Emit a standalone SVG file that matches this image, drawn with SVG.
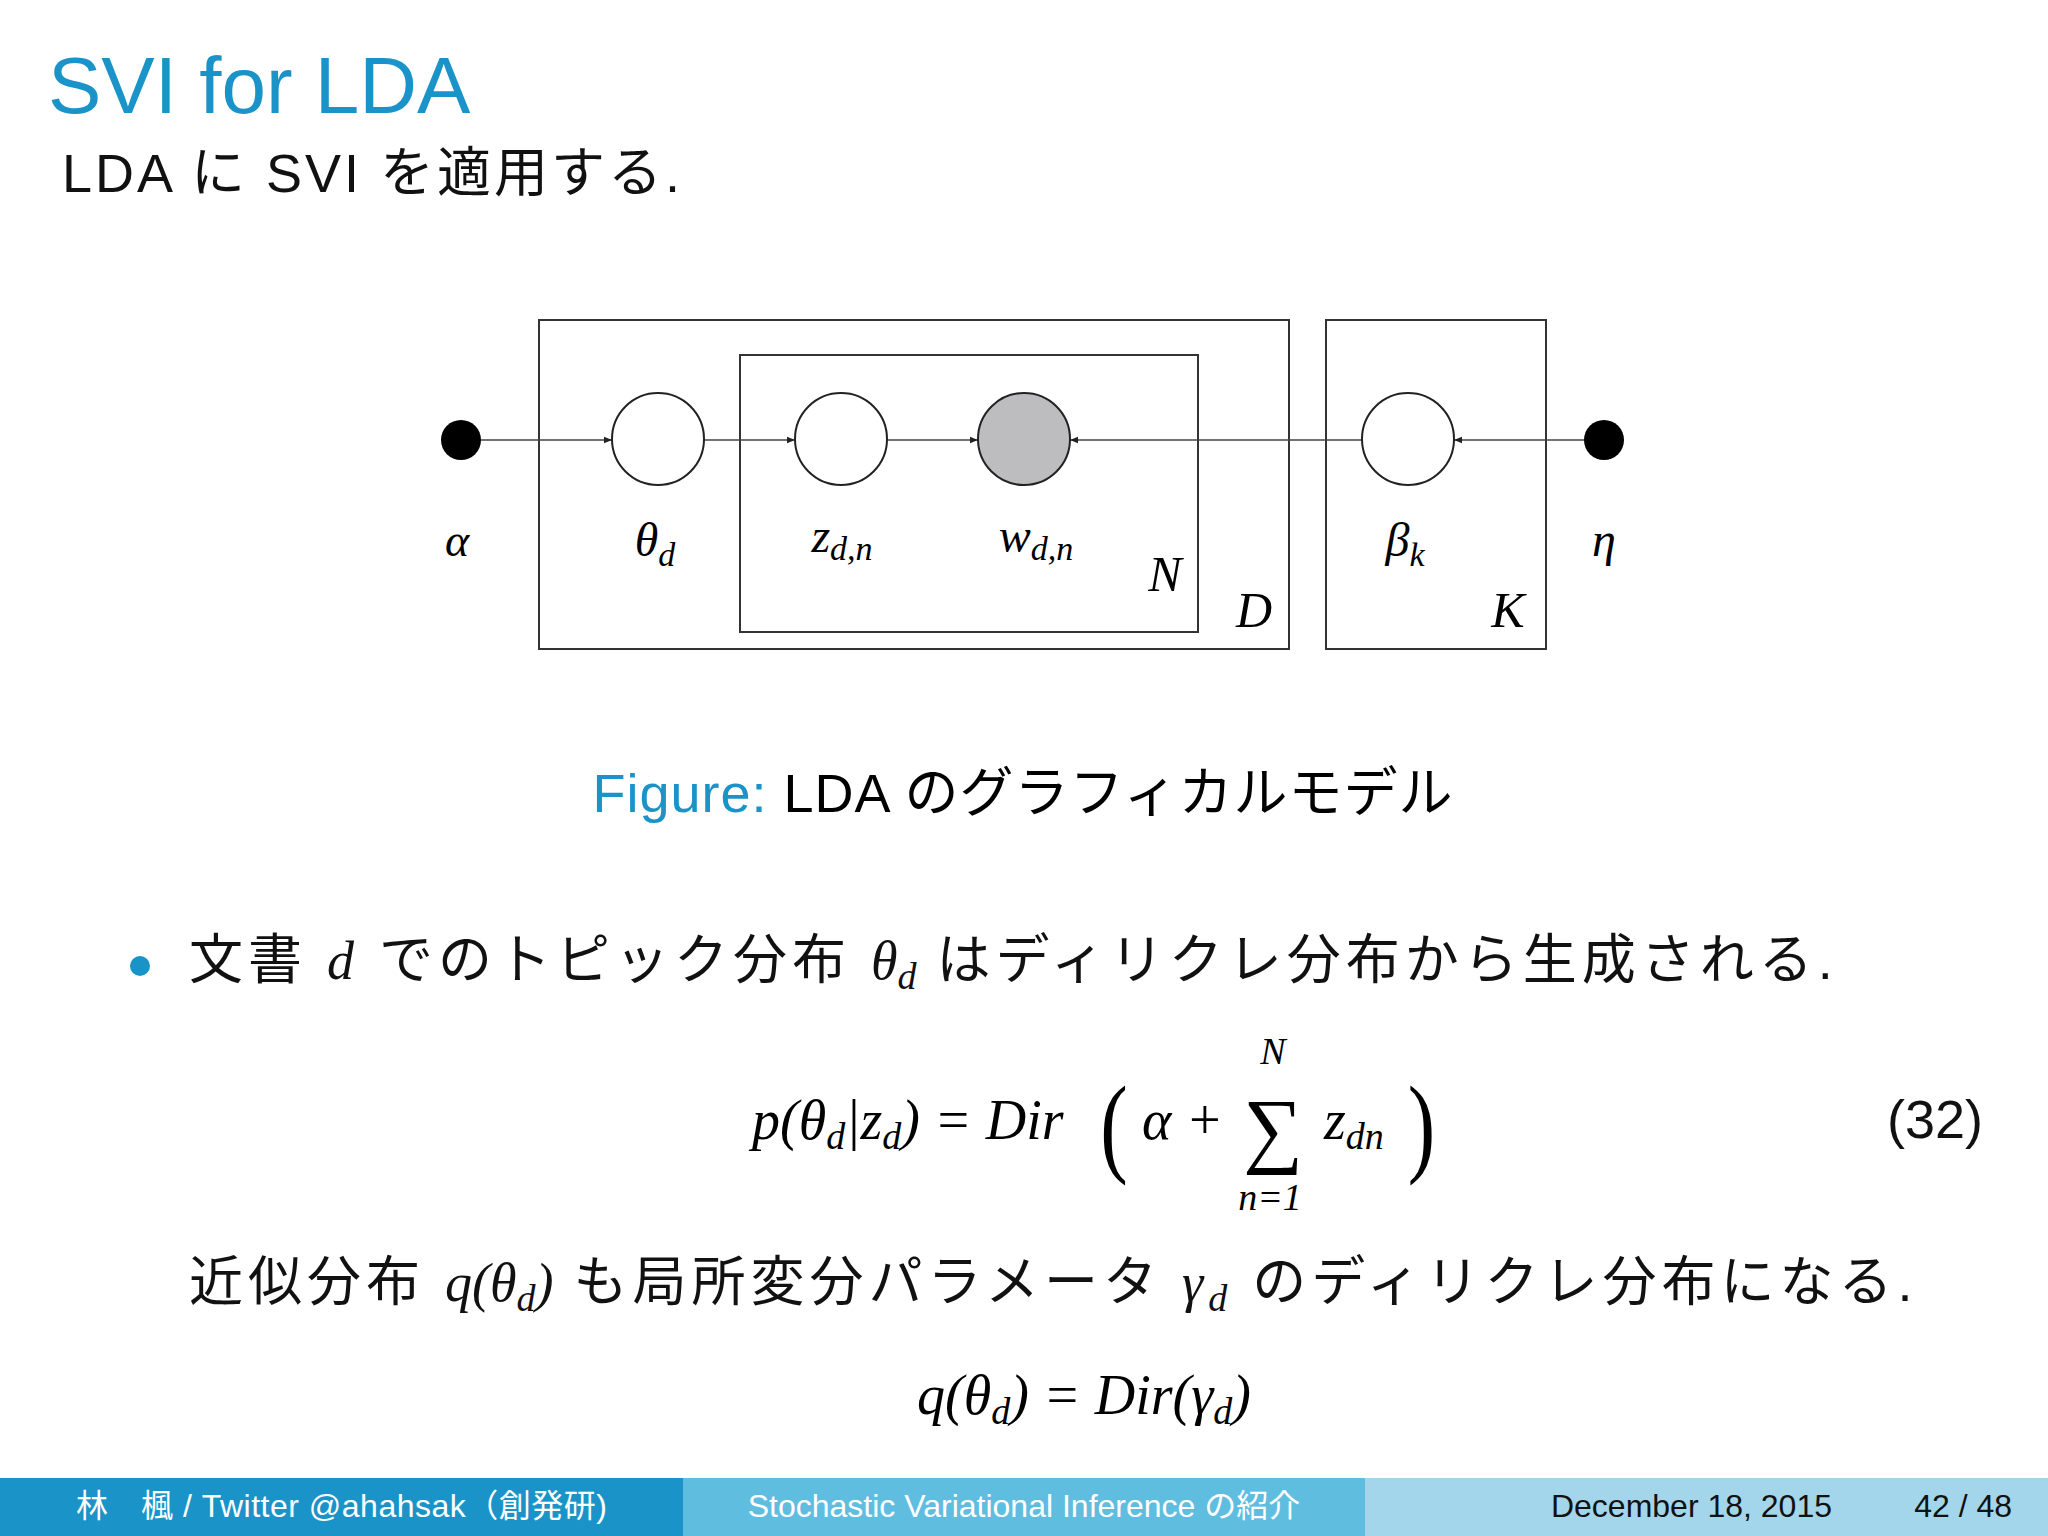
<svg xmlns="http://www.w3.org/2000/svg" width="2048" height="1536" viewBox="0 0 2048 1536">
<defs>
<style>
.s{font-family:"Liberation Sans","Noto Sans CJK JP",sans-serif}
.m{font-family:"Liberation Serif","DejaVu Serif",serif;font-style:italic}
.r{font-family:"Liberation Serif","DejaVu Serif",serif}
.box{fill:none;stroke:#333;stroke-width:2}
.node{fill:#fff;stroke:#222;stroke-width:2}
.ln{stroke:#444;stroke-width:1.5;fill:none;marker-end:url(#ah)}
</style>
<marker id="ah" viewBox="0 0 10 10" refX="10" refY="5" markerWidth="8" markerHeight="8" orient="auto" markerUnits="userSpaceOnUse"><path d="M0,1 L10,5 L0,9 z" fill="#222"/></marker>
</defs>
<rect width="2048" height="1536" fill="#fff"/>
<text class="s" x="48" y="113" font-size="80" fill="#1a94c8">SVI for LDA</text>
<text class="s" x="62" y="192" font-size="54" fill="#111" letter-spacing="3">LDA に SVI を適用する.</text>
<g id="plates">
<rect class="box" x="539" y="320" width="750" height="329"/>
<rect class="box" x="740" y="355" width="458" height="277"/>
<rect class="box" x="1326" y="320" width="220" height="329"/>
</g>
<g id="connectors">
<line class="ln" x1="481" y1="440" x2="612" y2="440"/>
<line class="ln" x1="704" y1="440" x2="795" y2="440"/>
<line class="ln" x1="887" y1="440" x2="978" y2="440"/>
<line class="ln" x1="1362" y1="440" x2="1070" y2="440"/>
<line class="ln" x1="1584" y1="440" x2="1454" y2="440"/>
</g>
<g id="alpha"><circle cx="461" cy="440" r="20" fill="#000"/><text class="m" x="457" y="556" font-size="46" text-anchor="middle">α</text></g>
<g id="theta"><circle class="node" cx="658" cy="439" r="46"/><text class="m" x="655" y="556" font-size="48" text-anchor="middle">θ<tspan font-size="34" dy="10">d</tspan></text></g>
<g id="z"><circle class="node" cx="841" cy="439" r="46"/><text class="m" x="842" y="552" font-size="48" text-anchor="middle">z<tspan font-size="34" dy="8">d,n</tspan></text></g>
<g id="w"><circle cx="1024" cy="439" r="46" fill="#bdbdbf" stroke="#222" stroke-width="2"/><text class="m" x="1036" y="552" font-size="48" text-anchor="middle">w<tspan font-size="34" dy="8">d,n</tspan></text></g>
<g id="beta"><circle class="node" cx="1408" cy="439" r="46"/><text class="m" x="1405" y="556" font-size="48" text-anchor="middle">β<tspan font-size="34" dy="10">k</tspan></text></g>
<g id="eta"><circle cx="1604" cy="440" r="20" fill="#000"/><text class="m" x="1604" y="556" font-size="48" text-anchor="middle">η</text></g>
<text class="m" x="1165" y="591" font-size="50" text-anchor="middle">N</text>
<text class="m" x="1254" y="627" font-size="50" text-anchor="middle">D</text>
<text class="m" x="1508" y="627" font-size="50" text-anchor="middle">K</text>
<text class="s" x="1023" y="812" font-size="54" text-anchor="middle" letter-spacing="1"><tspan fill="#1a94c8">Figure:</tspan> LDA のグラフィカルモデル</text>
<circle cx="140" cy="966" r="10" fill="#1a94c8"/>
<text class="s" x="189" y="979" font-size="54" fill="#111" letter-spacing="5">文書 <tspan class="m">d</tspan> でのトピック分布 <tspan class="m" letter-spacing="0">θ<tspan font-size="38" dy="10">d</tspan></tspan><tspan dy="-10"> はディリクレ分布から生成される.</tspan></text>
<text class="m" x="752" y="1139" font-size="56">p(θ<tspan font-size="38" dy="10">d</tspan><tspan dy="-10">|z</tspan><tspan font-size="38" dy="10">d</tspan><tspan dy="-10">) </tspan><tspan class="r">=</tspan> Dir</text>
<text class="r" x="1467" y="1162" font-size="110" transform="scale(0.75,1)">(</text>
<text class="m" x="1142" y="1139" font-size="56">α <tspan class="r">+</tspan></text>
<text class="r" x="1273" y="1157" font-size="84" text-anchor="middle">∑</text>
<text class="m" x="1273" y="1064" font-size="38" text-anchor="middle">N</text>
<text class="m" x="1270" y="1210" font-size="38" text-anchor="middle">n<tspan class="r">=1</tspan></text>
<text class="m" x="1324" y="1139" font-size="56">z<tspan font-size="38" dy="10">dn</tspan></text>
<text class="r" x="1877" y="1162" font-size="110" transform="scale(0.75,1)">)</text>
<text class="s" x="1983" y="1138" font-size="54" text-anchor="end" fill="#111">(32)</text>
<text class="s" x="189" y="1301" font-size="54" fill="#111" letter-spacing="5">近似分布 <tspan class="m" letter-spacing="0">q(θ<tspan font-size="38" dy="10">d</tspan><tspan dy="-10">)</tspan></tspan> も局所変分パラメータ <tspan class="m">γ<tspan font-size="38" dy="10">d</tspan></tspan><tspan dy="-10"> のディリクレ分布になる.</tspan></text>
<text class="m" x="1084" y="1414" font-size="56" text-anchor="middle">q(θ<tspan font-size="38" dy="10">d</tspan><tspan dy="-10">) </tspan><tspan class="r">=</tspan> Dir(γ<tspan font-size="38" dy="10">d</tspan><tspan dy="-10">)</tspan></text>
<g id="footer">
<rect x="0" y="1478" width="683" height="58" fill="#1a94c8"/>
<rect x="683" y="1478" width="682" height="58" fill="#5fbde0"/>
<rect x="1365" y="1478" width="683" height="58" fill="#a3d6eb"/>
<text class="s" x="76" y="1517" font-size="32" fill="#fff" letter-spacing="0.5">林　楓 / Twitter @ahahsak（創発研)</text>
<text class="s" x="1024" y="1517" font-size="32" fill="#fff" text-anchor="middle">Stochastic Variational Inference の紹介</text>
<text class="s" x="1832" y="1517" font-size="32" fill="#111" text-anchor="end">December 18, 2015</text>
<text class="s" x="2012" y="1517" font-size="32" fill="#111" text-anchor="end">42 / 48</text>
</g>
</svg>
